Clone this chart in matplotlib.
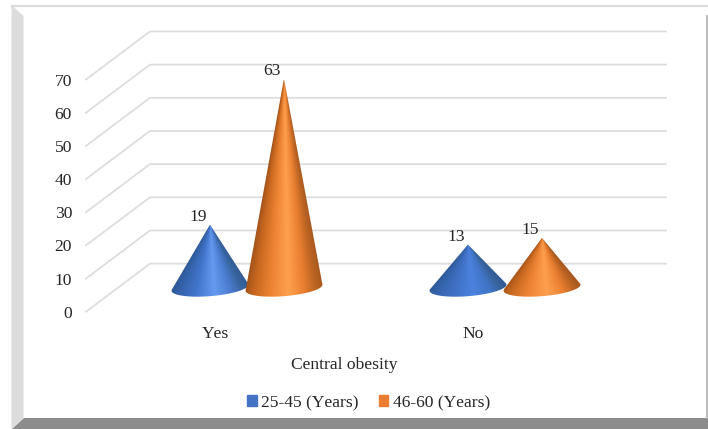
import numpy as np
import matplotlib.pyplot as plt
from matplotlib.colors import to_rgb
from matplotlib.patches import Patch, Polygon

plt.rcParams['font.family'] = ['Liberation Serif', 'DejaVu Serif']
plt.rcParams['font.size'] = 12.6
plt.rcParams['text.kerning_factor'] = 6

categories = ['Yes', 'No']
group_25_45 = [19, 13]
group_46_60 = [63, 15]
series_names = ['25-45 (Years)', '46-60 (Years)']
y_ticks = [0, 10, 20, 30, 40, 50, 60, 70]

W, H = 708, 429
TEXT = '#262626'
GRID = '#dcdcdc'

# oblique depth of the floor, in data units
DEPTH_X = 0.248
DEPTH_Y = 14.48
CONE_OFFSET = 0.1434
BASE_RX = 0.149
BASE_RY = 2.56
BASE_TILT = 0.9

# shading across a cone, left edge to right edge
shade_pos = [-1.0, -0.75, -0.35, 0.1, 0.5, 0.8, 1.0]
blue_bright = ['#2e5794', '#3563ab', '#4275cc', '#659af0', '#4a7ccf', '#38659f', '#335c96']
blue_dim = ['#2e5794', '#3563ab', '#3f70c4', '#4c82de', '#4175c8', '#38659f', '#335c96']
orange_shades = ['#a3531b', '#c8681f', '#ec8333', '#ffa04e', '#e97f30', '#bc6423', '#a8591f']


def draw_cone(ax, x, value, colors):
    # base centre sits half way back on the floor
    cx = x + DEPTH_X / 2
    cy = DEPTH_Y / 2
    top = cy + value

    t = np.linspace(0, 2 * np.pi, 240, endpoint=False)
    ex = cx + BASE_RX * np.cos(t)
    ey = cy + BASE_RY * np.sin(t) + BASE_TILT * np.cos(t)

    # the outline leaves the base where the sides touch it
    angle = np.arctan2((ex - cx) / BASE_RX, (top - ey) / BASE_RY)
    left, right = np.argmin(angle), np.argmax(angle)
    arc = np.r_[left:len(t), 0:right + 1]
    outline = np.column_stack([np.r_[cx, ex[arc]], np.r_[top, ey[arc]]])

    x0, x1 = cx - BASE_RX * 1.02, cx + BASE_RX * 1.02
    y0, y1 = cy - BASE_RY * 1.3, top
    gx, gy = np.meshgrid(np.linspace(x0, x1, 200), np.linspace(y0, y1, 400))
    frac = np.clip((top - gy) / (top - cy), 0.001, None)
    u = np.clip((gx - cx) / (BASE_RX * frac), -1, 1)
    rgb = np.array([to_rgb(c) for c in colors])
    img = np.dstack([np.interp(u, shade_pos, rgb[:, i]) for i in range(3)])

    im = ax.imshow(img, extent=(x0, x1, y0, y1), origin='lower', aspect='auto',
                   interpolation='bilinear', zorder=3)
    im.set_clip_path(Polygon(outline, closed=True, transform=ax.transData))
    return top


fig = plt.figure(figsize=(W / 100, H / 100), dpi=100, facecolor='white')

# raised border around the chart area
bg = fig.add_axes([0, 0, 1, 1])
bg.set_xlim(0, W)
bg.set_ylim(H, 0)
bg.axis('off')
bg.add_patch(Polygon([(11.5, 5), (23.5, 16), (23.5, 418), (11.5, 429)], fc='#dcdcdc', ec='none'))
bg.add_patch(Polygon([(23.5, 418), (W, 418), (W, H), (12, H)], fc='#8c8c8c', ec='none'))
bg.plot([11.5, W], [5.5, 5.5], color='#dcdcdc', lw=1.6)
bg.plot([707, 707], [16, 418], color='#b0b0b0', lw=1.2)

ax = fig.add_axes([86 / W, (H - 311.7) / H, 516 / W, 232.2 / H])
ax.patch.set_alpha(0)
for spine in ax.spines.values():
    spine.set_visible(False)

for v in y_ticks:
    ax.plot([0, DEPTH_X, 2 + DEPTH_X], [v, v + DEPTH_Y, v + DEPTH_Y],
            color=GRID, lw=1.25, clip_on=False, zorder=1)

positions = [0.5, 1.5]
blue_by_category = [blue_bright, blue_dim]
for i, pos in enumerate(positions):
    for sign, values, colors in ((-1, group_25_45, blue_by_category[i]), (1, group_46_60, orange_shades)):
        value = values[i]
        top = draw_cone(ax, pos + sign * CONE_OFFSET, value, colors)
        ax.annotate(str(value), (pos + sign * CONE_OFFSET + DEPTH_X / 2, top),
                    xytext=(-8.6, 5.8), textcoords='offset points', annotation_clip=False,
                    ha='center', va='center', color=TEXT)

ax.set_xlim(0, 2)
ax.set_ylim(0, 70)
ax.set_xticks(positions)
ax.set_xticklabels(categories, color=TEXT)
ax.set_yticks(y_ticks)
ax.set_yticklabels([str(v) for v in y_ticks], color=TEXT)
ax.tick_params(axis='both', length=0)
ax.tick_params(axis='x', pad=10)
ax.tick_params(axis='y', pad=10)
ax.set_xlabel('Central obesity', color=TEXT, labelpad=11)

handles = [Patch(color='#4472c4', label=series_names[0]),
           Patch(color='#ed7d31', label=series_names[1])]
fig.legend(handles=handles, loc='center', bbox_to_anchor=(368.5 / W, 1 - 403 / H),
           ncol=2, frameon=False, handlelength=0.56, handleheight=0.56,
           handletextpad=0.25, columnspacing=1.15, labelcolor=TEXT,
           borderpad=0, borderaxespad=0)

fig.savefig('out.png', dpi=100)
